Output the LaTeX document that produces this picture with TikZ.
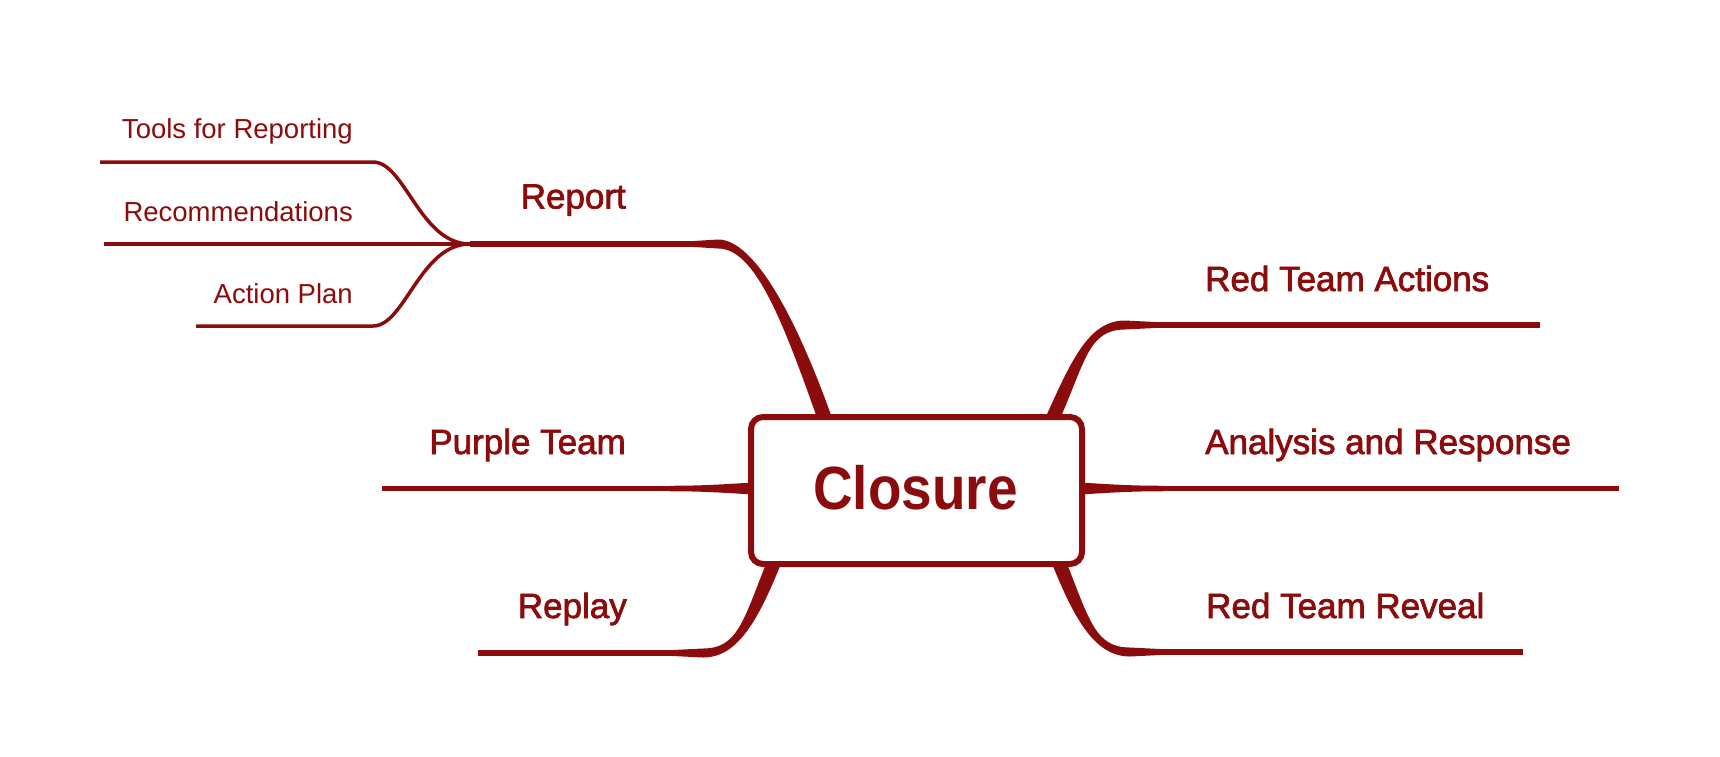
\documentclass[tikz,border=0pt]{standalone}
\usepackage{fontspec}
\setmainfont{Liberation Sans}
\newfontfamily\medfont[FakeBold=2]{Liberation Sans}
\newfontfamily\titlefont[FakeStretch=0.9]{Liberation Sans}
\usetikzlibrary{calc,backgrounds}
\definecolor{mred}{HTML}{8A0C0C}
\newcommand{\tapA}{7.5}
\newcommand{\tapB}{4.5}
\newcommand{\tapC}{2.75}
% tapered curved branch: #1 A (at box), #2 control near A, #3 control near B, #4 B, #5 far end of taper, #6 sign
\newcommand{\taperbranch}[6]{%
  \fill[mred] ($(#1)+({(#6)*\tapA},0)$) .. controls ($(#2)+({(#6)*\tapA},0)$) and ($(#3)+(0,-\tapB)$) .. ($(#4)+(0,-\tapB)$)
    -- ($(#5)+(0,-\tapC)$) -- ($(#5)+(0,\tapC)$) -- ($(#4)+(0,\tapB)$)
    .. controls ($(#3)+(0,\tapB)$) and ($(#2)+({-1*(#6)*\tapA},0)$) .. ($(#1)+({-1*(#6)*\tapA},0)$) -- cycle;}
% straight trumpet taper: #1 at box, #2 far end, #3 direction
\newcommand{\trumpet}[3]{%
  \fill[mred] ($(#1)+(0,-6)$) .. controls ($(#1)+({(#3)*37},-3.5)$) and ($(#2)+({-1*(#3)*25},-\tapC)$) .. ($(#2)+(0,-\tapC)$)
    -- ($(#2)+(0,\tapC)$) .. controls ($(#2)+({-1*(#3)*25},\tapC)$) and ($(#1)+({(#3)*37},3.5)$) .. ($(#1)+(0,6)$) -- cycle;}
\begin{document}
\begin{tikzpicture}[x=1pt,y=-1pt,
  l1/.style={text=mred, inner sep=0pt, font=\medfont\fontsize{35}{42}\selectfont},
  l2/.style={text=mred, inner sep=0pt, font=\fontsize{27.5}{33}\selectfont},
  thick1/.style={draw=mred, line width=5.5pt},
  thin2/.style={draw=mred, line width=3.5pt},
  rootbox/.style={draw=mred, fill=white, line width=6pt, rounded corners=12pt,
    minimum width=331pt, minimum height=147pt, inner sep=0pt}]
\useasboundingbox (0,0) rectangle (1720,756);

% central node
\node[rootbox] (root) at (916.5,490.5) {};
\node[text=mred, inner sep=0pt, anchor=base, font=\titlefont\bfseries\fontsize{61}{70}\selectfont] (rootlabel) at (915.5,509) {Closure};

% coordinates
\coordinate (jn) at (470,244);
\coordinate (rB) at (718,244);
\coordinate (rF) at (690,244);
\coordinate (rA) at (826,422);
\coordinate (t0) at (100,162);
\coordinate (t1) at (373,162);
\coordinate (r0) at (104,244);
\coordinate (a0) at (196,326);
\coordinate (a1) at (373,326);
\coordinate (p0) at (382,488.5);
\coordinate (pA) at (752,488.5);
\coordinate (pF) at (670,488.5);
\coordinate (an0) at (1619,488.5);
\coordinate (anA) at (1081,488.5);
\coordinate (anF) at (1163,488.5);
\coordinate (raA) at (1051,422);
\coordinate (raB) at (1125,325);
\coordinate (raF) at (1160,325);
\coordinate (ra0) at (1540,325);
\coordinate (rvA) at (1058,560);
\coordinate (rvB) at (1130,652);
\coordinate (rvF) at (1165,652);
\coordinate (rv0) at (1523,652);
\coordinate (rpA) at (775,560);
\coordinate (rpB) at (703,653);
\coordinate (rpF) at (668,653);
\coordinate (rp0) at (478,653);

% labels
\node[l1, anchor=base east] (report) at (626,208.5) {Report};
\node[l1, anchor=base east] (purple) at (626,454) {Purple Team};
\node[l1, anchor=base east] (replay) at (627,618) {Replay};
\node[l1, anchor=base west] (actions) at (1205,291) {Red Team Actions};
\node[l1, anchor=base west] (analysis) at (1205,454) {Analysis and Response};
\node[l1, anchor=base west] (reveal) at (1206,618) {Red Team Reveal};
\node[l2, anchor=base east] (tools) at (353,138) {Tools for Reporting};
\node[l2, anchor=base east] (recs) at (353,221) {Recommendations};
\node[l2, anchor=base east] (plan) at (353,303) {Action Plan};

\begin{pgfonlayer}{background}
  % Report and its children
  \draw[thick1] (jn) -- (rB);
  \taperbranch{rA}{790,320}{755,244}{rB}{rF}{1}
  \draw[thin2] (t0) -- (t1) .. controls (405,162) and (420,244) .. (jn);
  \draw[thin2] (r0) -- (jn);
  \draw[thin2] (a0) -- (a1) .. controls (405,326) and (420,244) .. (jn);
  % Purple Team
  \draw[thick1] (p0) -- (pA);
  \trumpet{pA}{pF}{-1}
  % Analysis and Response
  \draw[thick1] (anA) -- (an0);
  \trumpet{anA}{anF}{1}
  % Red Team Actions
  \draw[thick1] (raB) -- (ra0);
  \taperbranch{raA}{1078,362}{1088,325}{raB}{raF}{-1}
  % Red Team Reveal
  \draw[thick1] (rvB) -- (rv0);
  \taperbranch{rvA}{1082,620}{1095,652}{rvB}{rvF}{1}
  % Replay
  \draw[thick1] (rpB) -- (rp0);
  \taperbranch{rpA}{751,620}{738,653}{rpB}{rpF}{-1}
\end{pgfonlayer}
\end{tikzpicture}
\end{document}
